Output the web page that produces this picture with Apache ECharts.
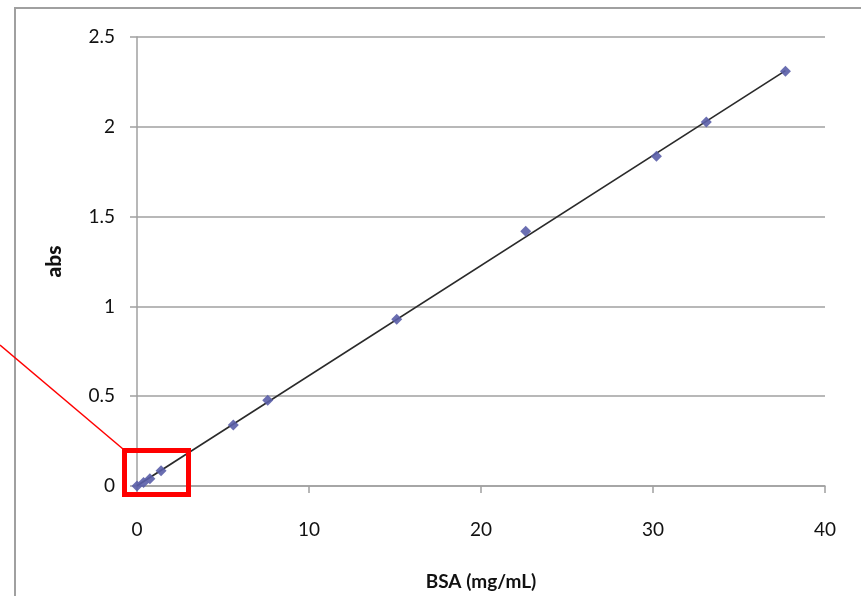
<!DOCTYPE html>
<html>
<head>
<meta charset="utf-8">
<script src="https://cdn.jsdelivr.net/npm/echarts@6/dist/echarts.min.js"></script>
<style>
html,body{margin:0;padding:0;background:#fff;}
#c{width:861px;height:596px;}
</style>
</head>
<body>
<div id="c"></div>
<script>
// Data
var bsa = [0, 0.38, 0.75, 1.4, 5.6, 7.6, 15.1, 22.6, 30.2, 33.1, 37.7];
var absVals = [0, 0.02, 0.04, 0.085, 0.34, 0.478, 0.928, 1.418, 1.836, 2.027, 2.309];
var xTicks = [0, 10, 20, 30, 40];
var yTicks = [0, 0.5, 1, 1.5, 2, 2.5];
var xTitle = 'BSA (mg/mL)';
var yTitle = 'abs';

// linear trend line (least squares) through the data
var n = bsa.length, sx = 0, sy = 0, sxx = 0, sxy = 0;
for (var i = 0; i < n; i++) { sx += bsa[i]; sy += absVals[i]; sxx += bsa[i]*bsa[i]; sxy += bsa[i]*absVals[i]; }
var slope = (n*sxy - sx*sy) / (n*sxx - sx*sx);
var intercept = (sy - slope*sx) / n;
var xMinData = Math.min.apply(null, bsa), xMaxData = Math.max.apply(null, bsa);
var trend = [[xMinData, intercept + slope*xMinData], [xMaxData, intercept + slope*xMaxData]];

var pts = bsa.map(function (x, i) { return [x, absVals[i]]; });

var chart = echarts.init(document.getElementById('c'), null, {renderer: 'canvas'});
var gray = '#a0a0a0';
var font = 'Lato, "Open Sans", sans-serif';
chart.setOption({
  animation: false,
  backgroundColor: '#fff',
  grid: {left: 137, right: 36, top: 37, bottom: 106},
  xAxis: {
    type: 'value', min: xTicks[0], max: xTicks[xTicks.length-1], interval: 10,
    name: xTitle, nameLocation: 'middle', nameGap: 86,
    nameTextStyle: {fontFamily: font, fontWeight: 'bold', fontSize: 19, color: '#111'},
    axisLine: {show: true, onZero: false, lineStyle: {color: gray, width: 1.5}},
    axisTick: {show: true, length: 7, lineStyle: {color: gray, width: 1.5}},
    axisLabel: {margin: 34, fontFamily: font, fontSize: 19, color: '#111'},
    splitLine: {show: false}
  },
  yAxis: {
    type: 'value', min: yTicks[0], max: yTicks[yTicks.length-1], interval: 0.5,
    name: yTitle, nameLocation: 'middle', nameGap: 72, nameRotate: 90,
    nameTextStyle: {fontFamily: font, fontWeight: 900, fontSize: 21, color: '#111'},
    axisLine: {show: true, lineStyle: {color: gray, width: 1.5}},
    axisTick: {show: true, length: 7, lineStyle: {color: gray, width: 1.5}},
    axisLabel: {margin: 22, fontFamily: font, fontSize: 19, color: '#111', padding: [4, 0, 0, 0]},
    splitLine: {show: true, lineStyle: {color: gray, width: 1.5}}
  },
  series: [
    {
      type: 'line', data: trend, symbol: 'none', silent: true,
      lineStyle: {color: '#2a2a2a', width: 1.7}, z: 2
    },
    {
      type: 'scatter', data: pts, symbol: 'diamond', symbolSize: 11,
      itemStyle: {color: '#5a5ea8', opacity: 0.9}, z: 3
    }
  ],
  graphic: [
    {type: 'polyline', shape: {points: [[15, 596], [15, 8], [861, 8]]}, style: {stroke: gray, lineWidth: 2, fill: null}, z: 0},
    {type: 'line', shape: {x1: 0, y1: 345, x2: 123, y2: 449}, style: {stroke: '#ff0000', lineWidth: 1.5}, z: 10},
    {type: 'rect', shape: {x: 124.5, y: 450.5, width: 64, height: 44}, style: {stroke: '#ff0000', lineWidth: 5, fill: null}, z: 10}
  ]
});
</script>
</body>
</html>
